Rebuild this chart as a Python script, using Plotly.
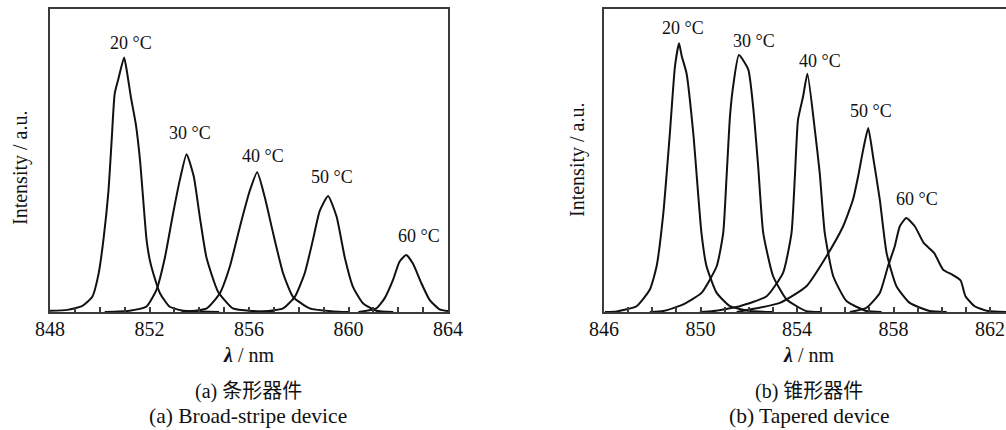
import plotly.graph_objects as go

# ---------------- data: (a) broad-stripe device ----------------
temps = ["20 °C", "30 °C", "40 °C", "50 °C", "60 °C"]

wl_a_20 = [848.0, 848.7, 849.3, 849.7, 849.95, 850.15, 850.35, 850.48, 850.6, 850.75, 850.98, 851.1, 851.25, 851.45, 851.62, 851.88, 852.01, 852.15, 852.42, 852.8, 853.3, 854.0, 854.8]
int_a_20 = [0.004, 0.007, 0.02, 0.05, 0.125, 0.24, 0.40, 0.568, 0.72, 0.77, 0.84, 0.79, 0.71, 0.62, 0.50, 0.24, 0.172, 0.128, 0.062, 0.018, 0.005, 0.002, 0.0]

wl_a_30 = [850.2, 851.2, 851.88, 852.28, 852.62, 852.95, 853.22, 853.49, 853.78, 854.02, 854.29, 854.75, 855.35, 856.2, 857.0]
int_a_30 = [0.0, 0.004, 0.018, 0.073, 0.18, 0.326, 0.436, 0.521, 0.447, 0.315, 0.18, 0.068, 0.012, 0.003, 0.0]

wl_a_40 = [853.3, 854.3, 854.83, 855.23, 855.63, 856.03, 856.33, 856.63, 856.97, 857.37, 857.77, 858.44, 859.4, 860.0]
int_a_40 = [0.0, 0.012, 0.062, 0.15, 0.28, 0.40, 0.461, 0.38, 0.26, 0.128, 0.05, 0.012, 0.002, 0.0]

wl_a_50 = [856.4, 857.37, 857.84, 858.24, 858.57, 858.84, 859.18, 859.52, 859.85, 860.18, 860.58, 861.12, 861.8]
int_a_50 = [0.0, 0.012, 0.05, 0.128, 0.238, 0.333, 0.383, 0.315, 0.18, 0.083, 0.029, 0.004, 0.0]

wl_a_60 = [860.4, 861.12, 861.45, 861.79, 862.05, 862.32, 862.59, 862.93, 863.26, 863.66, 864.0]
int_a_60 = [0.0, 0.012, 0.045, 0.106, 0.166, 0.188, 0.16, 0.095, 0.04, 0.009, 0.003]

# label anchor points (nm, intensity) for panel (a)
lab_a_x = [851.25, 853.62, 856.55, 859.33, 862.82]
lab_a_y = [0.888, 0.591, 0.515, 0.446, 0.251]

# ---------------- data: (b) tapered device ----------------
wl_b_20 = [846.04, 846.53, 847.35, 847.9, 848.18, 848.46, 848.73, 848.94, 849.11, 849.22, 849.42, 849.70, 850.04, 850.25, 850.67, 851.22, 852.05, 853.0]
int_b_20 = [0.0, 0.002, 0.019, 0.074, 0.151, 0.327, 0.59, 0.81, 0.887, 0.845, 0.788, 0.59, 0.26, 0.151, 0.063, 0.019, 0.003, 0.0]

wl_b_30 = [847.9, 848.46, 849.28, 850.04, 850.67, 850.94, 851.08, 851.22, 851.35, 851.59, 851.98, 852.18, 852.39, 852.6, 853.01, 853.57, 854.39, 855.0]
int_b_30 = [0.0, 0.003, 0.025, 0.063, 0.151, 0.26, 0.447, 0.645, 0.744, 0.848, 0.80, 0.678, 0.48, 0.26, 0.118, 0.041, 0.003, 0.0]

wl_b_40 = [849.97, 850.53, 851.63, 852.74, 853.42, 853.77, 853.91, 854.04, 854.25, 854.43, 854.74, 854.94, 855.15, 855.5, 856.05, 856.88, 857.5]
int_b_40 = [0.0, 0.003, 0.019, 0.052, 0.129, 0.26, 0.447, 0.634, 0.711, 0.786, 0.60, 0.459, 0.26, 0.118, 0.036, 0.003, 0.0]

wl_b_50 = [851.5, 853.29, 854.39, 855.22, 855.91, 856.32, 856.53, 856.74, 856.95, 857.15, 857.43, 857.71, 858.12, 858.67, 859.5, 860.2]
int_b_50 = [0.0, 0.03, 0.085, 0.184, 0.283, 0.371, 0.447, 0.535, 0.607, 0.513, 0.371, 0.195, 0.085, 0.03, 0.003, 0.0]

wl_b_60 = [856.19, 856.88, 857.43, 857.77, 858.05, 858.26, 858.53, 858.88, 859.25, 859.68, 860.05, 860.46, 860.78, 860.98, 861.36, 861.92, 862.66]
int_b_60 = [0.0, 0.014, 0.063, 0.151, 0.217, 0.283, 0.31, 0.283, 0.228, 0.195, 0.14, 0.122, 0.104, 0.052, 0.019, 0.003, 0.0]

lab_b_x = [849.28, 852.22, 854.94, 857.08, 858.97]
lab_b_y = [0.938, 0.896, 0.829, 0.662, 0.373]

xticks_a = [848, 852, 856, 860, 864]
xticks_b = [846, 850, 854, 858, 862]

captions_a = ["(a) 条形器件", "(a) Broad-stripe device"]
captions_b = ["(b) 锥形器件", "(b) Tapered device"]

# ---------------- figure ----------------
W, H = 1006, 430
FONT = "Liberation Serif, Times New Roman, Noto Sans CJK SC, serif"
INK = "#111111"
FRAME = "#3a3a3a"

fig = go.Figure()

series_a = [(wl_a_20, int_a_20), (wl_a_30, int_a_30), (wl_a_40, int_a_40),
            (wl_a_50, int_a_50), (wl_a_60, int_a_60)]
series_b = [(wl_b_20, int_b_20), (wl_b_30, int_b_30), (wl_b_40, int_b_40),
            (wl_b_50, int_b_50), (wl_b_60, int_b_60)]

for (xs, ys), name in zip(series_a, temps):
    fig.add_trace(go.Scatter(x=xs, y=ys, mode="lines", name=name,
                             line=dict(color=INK, width=2, shape="spline", smoothing=0.5),
                             xaxis="x", yaxis="y", showlegend=False))
for (xs, ys), name in zip(series_b, temps):
    fig.add_trace(go.Scatter(x=xs, y=ys, mode="lines", name=name,
                             line=dict(color=INK, width=2, shape="spline", smoothing=0.5),
                             xaxis="x2", yaxis="y2", showlegend=False))

y_dom = [1 - 312 / H, 1 - 9 / H]

def xaxis_cfg(rng, dom, tickvals, mirror):
    return dict(
        domain=dom, range=rng, tickmode="array", tickvals=tickvals,
        ticktext=[str(t) for t in tickvals],
        ticks="inside", ticklen=5, tickwidth=1.5, tickcolor=FRAME,
        minor=dict(dtick=1, tick0=tickvals[0], ticks="inside", ticklen=5,
                   tickwidth=1.5, tickcolor=FRAME, showgrid=False),
        showline=True, linewidth=1.8, linecolor=FRAME, mirror=mirror,
        showgrid=False, zeroline=False, automargin=False,
        tickfont=dict(family=FONT, size=20, color=INK),
        ticklabelstandoff=-2,
    )

def yaxis_cfg(anchor, mirror):
    return dict(
        domain=y_dom, range=[0, 1], anchor=anchor, automargin=False,
        showticklabels=False, ticks="", showline=True, linewidth=1.8,
        linecolor=FRAME, mirror=mirror, showgrid=False, zeroline=False,
    )

fig.update_layout(
    template="none",
    width=W, height=H,
    margin=dict(l=0, r=0, t=0, b=0, pad=0, autoexpand=False),
    paper_bgcolor="white", plot_bgcolor="white",
    xaxis=dict(**xaxis_cfg([848, 864], [50 / W, 448 / W], xticks_a, True), anchor="y"),
    yaxis=yaxis_cfg("x", True),
    xaxis2=dict(**xaxis_cfg([846, 862.66], [604 / W, 1.0], xticks_b, True), anchor="y2"),
    yaxis2=yaxis_cfg("x2", False),
    showlegend=False,
)

ann = []
for t, x, y in zip(temps, lab_a_x, lab_a_y):
    ann.append(dict(x=x, y=y, xref="x", yref="y", text=t, showarrow=False,
                    font=dict(family=FONT, size=18, color=INK),
                    xanchor="center", yanchor="middle"))
for t, x, y in zip(temps, lab_b_x, lab_b_y):
    ann.append(dict(x=x, y=y, xref="x2", yref="y2", text=t, showarrow=False,
                    font=dict(family=FONT, size=18, color=INK),
                    xanchor="center", yanchor="middle"))

def px(xp, yp):
    return xp / W, 1 - yp / H

# y-axis titles
for (xc, yc) in [(21, 168), (577, 160)]:
    xx, yy = px(xc, yc)
    ann.append(dict(x=xx, y=yy, xref="paper", yref="paper", text="Intensity / a.u.",
                    textangle=-90, showarrow=False,
                    font=dict(family=FONT, size=20, color=INK),
                    xanchor="center", yanchor="middle"))

# x-axis titles
for xc in [248, 808]:
    xx, yy = px(xc, 355)
    ann.append(dict(x=xx, y=yy, xref="paper", yref="paper",
                    text="<b><i>λ</i></b> / nm", showarrow=False,
                    font=dict(family=FONT, size=20, color=INK),
                    xanchor="center", yanchor="middle"))

# captions
for xc, caps in [(248, captions_a), (809, captions_b)]:
    for yc, txt, fs in zip([391, 416], caps, [20, 21.5]):
        xx, yy = px(xc, yc)
        ann.append(dict(x=xx, y=yy, xref="paper", yref="paper", text=txt,
                        showarrow=False, font=dict(family=FONT, size=fs, color=INK),
                        xanchor="center", yanchor="middle"))

fig.update_layout(annotations=ann)
fig.write_html("out.html")
